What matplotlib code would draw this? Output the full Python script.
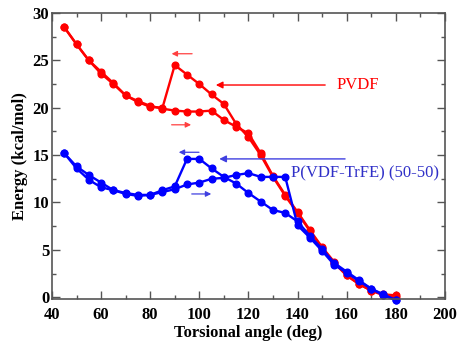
import matplotlib as mpl
mpl.use('Agg')
import matplotlib.pyplot as plt
from matplotlib.ticker import MultipleLocator

# PVDF, increasing angle (lower branch) and decreasing angle (upper branch)
pvdf_fwd_x = [45, 50, 55, 60, 65, 70, 75, 80, 85, 90, 95, 100, 105, 110, 115, 120,
              125, 130, 135, 140, 145, 150, 155, 160, 165, 170, 175, 180]
pvdf_fwd_y = [28.5, 26.7, 25.0, 23.6, 22.5, 21.3, 20.7, 20.2, 19.9, 19.7, 19.6, 19.6, 19.7, 18.7, 18.0, 17.3,
              15.2, 12.8, 10.8, 9.0, 7.1, 5.3, 3.7, 2.3, 1.4, 0.7, 0.3, 0.2]
pvdf_rev_x = [180, 175, 170, 165, 160, 155, 150, 145, 140, 135, 130, 125, 120, 115,
              110, 105, 100, 95, 90, 85, 80, 75, 70, 65, 60, 55, 50, 45]
pvdf_rev_y = [0.0, 0.2, 0.7, 1.4, 2.3, 3.6, 5.2, 7.0, 8.9, 10.7, 12.7, 15.0, 16.9, 18.3,
              20.4, 21.4, 22.5, 23.5, 24.5, 20.0, 20.1, 20.6, 21.3, 22.6, 23.8, 25.0, 26.7, 28.5]

# P(VDF-TrFE) 50-50
cop_fwd_x = [45, 50, 55, 60, 65, 70, 75, 80, 85, 90, 95, 100, 105, 110, 115, 120,
             125, 130, 135, 140, 145, 150, 155, 160, 165, 170, 175, 180]
cop_fwd_y = [15.2, 13.8, 12.9, 12.1, 11.3, 10.9, 10.7, 10.8, 11.1, 11.4, 11.9, 12.1, 12.5, 12.6, 12.9, 13.1,
             12.7, 12.7, 12.7, 7.6, 6.3, 4.9, 3.4, 2.6, 1.7, 0.9, 0.2, -0.3]
cop_rev_x = [180, 175, 170, 165, 160, 155, 150, 145, 140, 135, 130, 125, 120, 115,
             110, 105, 100, 95, 90, 85, 80, 75, 70, 65, 60, 55, 50, 45]
cop_rev_y = [-0.3, 0.3, 0.9, 1.8, 2.7, 3.6, 5.1, 6.5, 8.0, 8.9, 9.2, 10.1, 11.0, 12.0,
             12.7, 13.6, 14.6, 14.6, 11.7, 11.3, 10.8, 10.8, 11.0, 11.3, 11.6, 12.4, 13.6, 15.2]

plt.rcParams['font.family'] = ['Liberation Serif', 'DejaVu Serif']

fig = plt.figure(figsize=(4.6, 3.47), dpi=100)
ax = fig.add_axes([0.113, 0.138, 0.854, 0.8245])

red = '#ff0000'
blue = '#0000ff'
for xs, ys, c in [(pvdf_fwd_x, pvdf_fwd_y, red), (pvdf_rev_x, pvdf_rev_y, red),
                  (cop_fwd_x, cop_fwd_y, blue), (cop_rev_x, cop_rev_y, blue)]:
    ax.plot(xs, ys, color=c, lw=1.7, marker='o', ms=4.8, mec=c, mfc=c, clip_on=False)

# labels with long arrows
ax.annotate('', xy=(105.6, 22.4), xytext=(152.4, 22.4),
            arrowprops=dict(arrowstyle='-|>', color=red, lw=1.0, mutation_scale=10))
ax.text(156, 22.4, 'PVDF', color=red, fontsize=12, va='center', ha='left')
ax.annotate('', xy=(107, 14.6), xytext=(160.5, 14.6),
            arrowprops=dict(arrowstyle='-|>', color='#4040e0', lw=1.0, mutation_scale=10))
ax.text(137.5, 13.1, 'P(VDF-TrFE) (50-50)', color='#3030c8', fontsize=12, va='center', ha='left')

# small direction arrows
ax.annotate('', xy=(87.6, 25.7), xytext=(98.2, 25.7),
            arrowprops=dict(arrowstyle='-|>', color='#ff4040', lw=0.9, mutation_scale=8))
ax.annotate('', xy=(97.8, 18.2), xytext=(87.6, 18.2),
            arrowprops=dict(arrowstyle='-|>', color='#ff4040', lw=0.9, mutation_scale=8))
ax.annotate('', xy=(90.5, 15.3), xytext=(101, 15.3),
            arrowprops=dict(arrowstyle='-|>', color='#4040e0', lw=0.9, mutation_scale=8))
ax.annotate('', xy=(106, 10.9), xytext=(95.8, 10.9),
            arrowprops=dict(arrowstyle='-|>', color='#4040e0', lw=0.9, mutation_scale=8))

ax.set_xlim(40, 200)
ax.set_ylim(-0.2, 30)
ax.xaxis.set_major_locator(MultipleLocator(20))
ax.xaxis.set_minor_locator(MultipleLocator(10))
ax.yaxis.set_major_locator(MultipleLocator(5))
ax.yaxis.set_minor_locator(MultipleLocator(2.5))
ax.tick_params(which='both', direction='in', top=True, right=True, color='#555555', width=1.0)
ax.tick_params(which='major', length=6, labelsize=12)
ax.tick_params(axis='x', which='major', pad=6)
ax.tick_params(axis='y', which='major', pad=2)
ax.tick_params(which='minor', length=3)
for lab in ax.get_xticklabels() + ax.get_yticklabels():
    lab.set_fontweight('bold')
for s in ax.spines.values():
    s.set_color('#555555')
    s.set_linewidth(1.2)

ax.set_xlabel('Torsional angle (deg)', fontsize=12, fontweight='bold', labelpad=1)
ax.set_ylabel('Energy (kcal/mol)', fontsize=12, fontweight='bold', labelpad=3)

plt.savefig('out.png', dpi=100)
